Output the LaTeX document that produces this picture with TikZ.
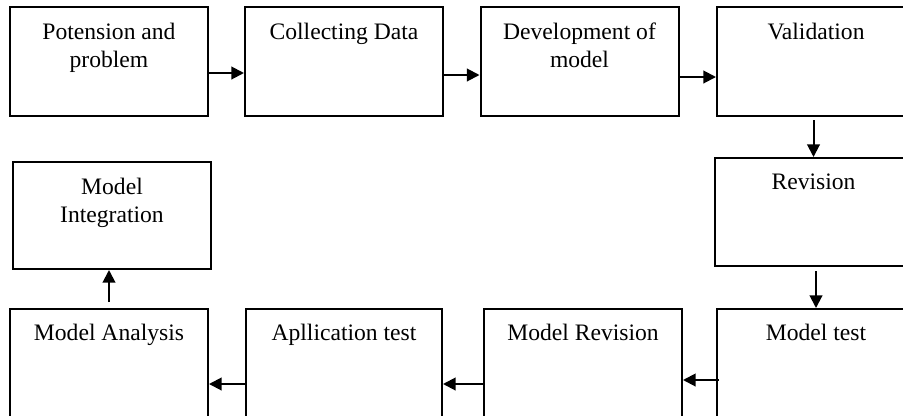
\documentclass[tikz,border=0pt]{standalone}
\usepackage{fontspec}
\setmainfont{Liberation Serif}
\usetikzlibrary{arrows.meta,calc}

\tikzset{
  stage/.style={draw, line width=1.5pt, minimum width=148.5pt, minimum height=81.75pt, inner sep=0pt},
  txt/.style={anchor=north, inner sep=0pt, align=center, font=\fontsize{17.7}{21}\selectfont},
  arr/.style={line width=1.5pt, -{Triangle[length=9.5pt,width=9.5pt]}}
}

\begin{document}
\begin{tikzpicture}[x=0.75pt,y=0.75pt,yscale=-1,xscale=1]
\useasboundingbox (0,0) rectangle (903,415);

%Shape: Rectangle [top row]
\node (pot) [stage] at (109,61.5) {};
\node (col) [stage] at (344,61.5) {};
\node (dev) [stage] at (579.5,61.5) {};
\node (val) [stage] at (816,61.5) {};
%Shape: Rectangle [middle row]
\node (mint) [stage, minimum height=80.25pt] at (112,215.5) {};
\node (rev) [stage, minimum height=81pt] at (813.5,212) {};
%Shape: Rectangle [bottom row]
\node (man) [stage] at (109,363.5) {};
\node (app) [stage, minimum width=147pt] at (344,363.5) {};
\node (mrev) [stage] at (583,363.5) {};
\node (mtest) [stage] at (816,363.5) {};

%Straight Lines [top row]
\draw [arr] ($(pot.east)+(0,11.5)$) -- ($(col.west)+(0,11.5)$);
\draw [arr] ($(col.east)+(0,13.5)$) -- ($(dev.west)+(0,13.5)$);
\draw [arr] ($(dev.east)+(0,15.5)$) -- ($(val.west)+(0,15.5)$);
%Straight Lines [right side]
\draw [arr] ($(val.south -| rev.north)+(0,3)$) -- (rev.north);
\draw [arr] ($(rev.south -| mtest.north)+(0,4)$) -- (mtest.north);
%Straight Lines [bottom row]
\draw [arr] ($(mtest.west)+(3,16.5)$) -- ($(mrev.east)+(0,16.5)$);
\draw [arr] ($(mrev.west)+(0,20.5)$) -- ($(app.east)+(0,20.5)$);
\draw [arr] ($(app.west)+(0,20.5)$) -- ($(man.east)+(0,20.5)$);
%Straight Lines [left side]
\draw [arr] ($(man.north)+(0,-6)$) -- (man.north |- mint.south);

% Text Node
\node (tpot) [txt] at ($(pot.north)+(0,17)$) {Potension and\\problem};
% Text Node
\node (tcol) [txt] at ($(col.north)+(0,17)$) {Collecting Data};
% Text Node
\node (tdev) [txt] at ($(dev.north)+(0,17)$) {Development of\\model};
% Text Node
\node (tval) [txt] at ($(val.north)+(0,17)$) {Validation};
% Text Node
\node (tmint) [txt] at ($(mint.north)+(0,17)$) {Model\\Integration};
% Text Node
\node (trev) [txt] at ($(rev.north)+(0,17)$) {Revision};
% Text Node
\node (tman) [txt] at ($(man.north)+(0,16)$) {Model Analysis};
% Text Node
\node (tapp) [txt] at ($(app.north)+(0,16)$) {Apllication test};
% Text Node
\node (tmrev) [txt] at ($(mrev.north)+(0,16)$) {Model Revision};
% Text Node
\node (tmtest) [txt] at ($(mtest.north)+(0,16)$) {Model test};
\end{tikzpicture}
\end{document}
